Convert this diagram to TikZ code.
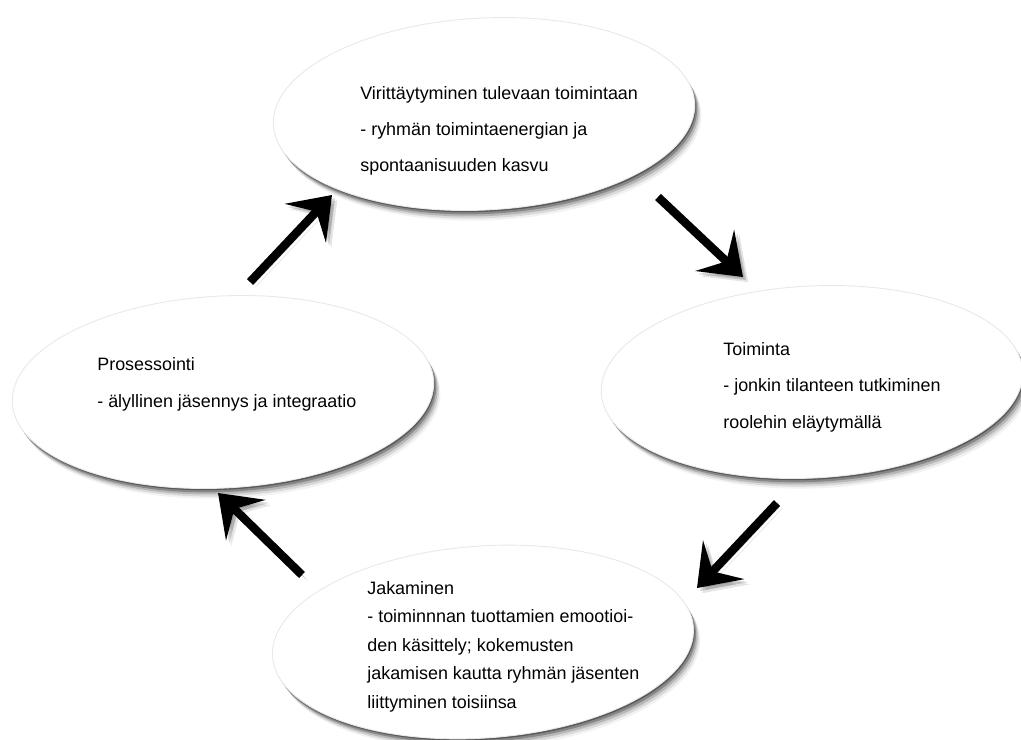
\documentclass[tikz,border=0pt]{standalone}
\usepackage{fontspec}
\setmainfont{Liberation Sans}
\usetikzlibrary{shapes.geometric,shadows,arrows.meta}
\tikzset{
  blob/.style={ellipse, fill=white, draw=black!9, line width=0.5pt, inner sep=0pt,
    minimum width=8.44cm, minimum height=3.84cm,
    drop shadow={shadow xshift=0.6pt, shadow yshift=-1.0pt, opacity=0.35, fill=black},
    drop shadow={shadow xshift=1.4pt, shadow yshift=-2.2pt, opacity=0.25, fill=black},
    drop shadow={shadow xshift=2.2pt, shadow yshift=-3.4pt, opacity=0.16, fill=black},
    drop shadow={shadow xshift=3.0pt, shadow yshift=-4.6pt, opacity=0.10, fill=black},
    drop shadow={shadow xshift=3.8pt, shadow yshift=-5.8pt, opacity=0.05, fill=black}},
  txt/.style={inner sep=0pt, align=left, anchor=base west,
    font=\fontsize{10.2pt}{20.7pt}\selectfont},
  txttight/.style={txt, font=\fontsize{10.2pt}{16.2pt}\selectfont},
  bigarrow/.style={line width=4.8pt, -{Stealth[length=22pt, width=32pt, inset=9pt]},
    preaction={draw=black, opacity=0.10, transform canvas={shift={(3pt,-3pt)}}},
    preaction={draw=black, opacity=0.14, transform canvas={shift={(1.8pt,-1.8pt)}}}},
}
\begin{document}
\begin{tikzpicture}[x=0.02cm, y=-0.02cm]
\useasboundingbox[fill=white] (0,0) rectangle (1021,740);
% ellipses
\node[blob, rotate=3] (top) at (484,114) {};
\node[blob, rotate=3] (right) at (812,382) {};
\node[blob, rotate=3] (left) at (223,392) {};
\node[blob, rotate=4] (bottom) at (483,642) {};
% texts (anchored at the baseline of their last line)
\node[txt] (ttop) at (360,172) {Virittäytyminen tulevaan toimintaan\\- ryhmän toimintaenergian ja\\spontaanisuuden kasvu};
\node[txt] (tright) at (723,428) {Toiminta\\- jonkin tilanteen tutkiminen\\roolehin eläytymällä};
\node[txt] (tleft) at (97,407) {Prosessointi\\- älyllinen jäsennys ja integraatio};
\node[txttight] (tbottom) at (367,708) {Jakaminen\\- toiminnnan tuottamien emootioi-\\den käsittely; kokemusten\\jakamisen kautta ryhmän jäsenten\\liittyminen toisiinsa};
% arrow end points
\coordinate (a1s) at (250,282); \coordinate (a1e) at (332,195);
\coordinate (a2s) at (658,197); \coordinate (a2e) at (743,277);
\coordinate (a3s) at (777,503); \coordinate (a3e) at (697,588);
\coordinate (a4s) at (302,575); \coordinate (a4e) at (218,493);
\draw[bigarrow] (a1s) -- (a1e);
\draw[bigarrow] (a2s) -- (a2e);
\draw[bigarrow] (a3s) -- (a3e);
\draw[bigarrow] (a4s) -- (a4e);
\end{tikzpicture}
\end{document}
